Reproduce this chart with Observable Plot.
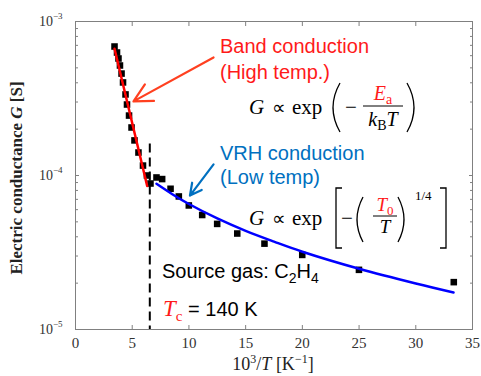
<!DOCTYPE html>
<html><head><meta charset="utf-8">
<script src="https://cdn.jsdelivr.net/npm/d3@7"></script>
<script src="https://cdn.jsdelivr.net/npm/@observablehq/plot@0.6"></script>
<style>body{margin:0;background:#fff} #chart{width:481px;height:376px}</style>
</head><body><div id="chart"></div>
<script>
// measured data: x = 1000/T [1/K], G [S]
const invT = [3.44, 3.66, 3.79, 3.92, 4.06, 4.19, 4.41, 4.54, 4.72, 4.94, 5.20, 5.55, 5.95, 6.30, 6.61, 7.14, 7.64, 8.38, 9.11, 9.99, 11.17, 12.49, 14.26, 16.66, 19.99, 24.99, 33.35];
const conductance = [6.88e-4, 6.29e-4, 5.75e-4, 5.18e-4, 4.59e-4, 4.02e-4, 3.36e-4, 2.89e-4, 2.45e-4, 2.05e-4, 1.69e-4, 1.41e-4, 1.16e-4, 1.0e-4, 8.87e-5, 9.71e-5, 9.48e-5, 8.20e-5, 7.31e-5, 6.39e-5, 5.54e-5, 4.85e-5, 4.20e-5, 3.61e-5, 3.05e-5, 2.44e-5, 2.03e-5];
// band-conduction fit (red)
const bandX = [3.44, 6.32];
const bandG = [6.65e-4, 8.55e-5];
// VRH fit (blue)
const vrhX = [7.14, 8.5, 10, 12.5, 15, 17.5, 20, 25, 30, 33.33];
const vrhG = [8.83e-5, 7.59e-5, 6.53e-5, 5.26e-5, 4.37e-5, 3.72e-5, 3.20e-5, 2.48e-5, 1.99e-5, 1.74e-5];
// transition temperature marker (Tc)
const tcX = [6.55];
const tcTop = [1.6e-4];
// arrows [tail x, tail y, head x, head y]
const redArrow = [12.17, 5.84e-4, 5.11, 3.03e-4];
const blueArrow = [12.17, 1.18e-4, 10.09, 7.41e-5];
// ticks
const xTicks = [0, 5, 10, 15, 20, 25, 30, 35];
const yMajor = [1e-5, 1e-4, 1e-3];
const yTickLabels = ["10^−5", "10^−4", "10^−3"];
const yMinor = [2e-5,3e-5,4e-5,5e-5,6e-5,7e-5,8e-5,9e-5,2e-4,3e-4,4e-4,5e-4,6e-4,7e-4,8e-4,9e-4];

const pts = invT.map((x, i) => ({x, g: conductance[i]}));
const band = bandX.map((x, i) => ({x, g: bandG[i]}));
const vrh = vrhX.map((x, i) => ({x, g: vrhG[i]}));

const gridStroke = "#808080";
const plot = Plot.plot({
  width: 481, height: 376,
  marginLeft: 75, marginRight: 9, marginTop: 21, marginBottom: 47,
  style: {fontFamily: "Liberation Serif", fontSize: "15px", color: "#333", background: "#fff"},
  x: {domain: [0, 35], axis: null},
  y: {type: "log", domain: [1e-5, 1e-3], axis: null},
  marks: [
    Plot.frame({stroke: gridStroke}),
    Plot.axisX(xTicks, {anchor: "bottom", tickSize: 0, tickPadding: 8, label: null}),
    Plot.axisX(xTicks.slice(1, -1), {anchor: "bottom", tickSize: -4, tickFormat: () => "", label: null, stroke: gridStroke}),
    Plot.axisX(xTicks.slice(1, -1), {anchor: "top", tickSize: -4, tickFormat: () => "", label: null, stroke: gridStroke}),
    Plot.axisY(yMajor, {anchor: "left", tickSize: 0, tickPadding: 13, tickFormat: d => yTickLabels[yMajor.indexOf(d)], label: null, fontSize: 14}),
    Plot.axisY(yMajor, {anchor: "left", tickSize: -4, tickFormat: () => "", label: null, stroke: gridStroke}),
    Plot.axisY(yMinor, {anchor: "left", tickSize: -3, tickFormat: () => "", label: null, stroke: gridStroke}),
    Plot.axisY(yMajor, {anchor: "right", tickSize: -4, tickFormat: () => "", label: null, stroke: gridStroke}),
    Plot.axisY(yMinor, {anchor: "right", tickSize: -3, tickFormat: () => "", label: null, stroke: gridStroke}),
    Plot.ruleX(tcX, {x: d => d, y1: (d, i) => tcTop[i], y2: 1e-5, stroke: "#000", strokeWidth: 2, strokeDasharray: "9,5"}),
    Plot.dot(pts, {x: "x", y: "g", symbol: "square", r: 3.7, fill: "#000", stroke: "none"}),
    Plot.line(band, {x: "x", y: "g", stroke: "#ff0000", strokeWidth: 2.5}),
    Plot.line(vrh, {x: "x", y: "g", stroke: "#0000ff", strokeWidth: 2.5, curve: "catmull-rom"}),
    Plot.arrow([redArrow], {x1: d => d[0], y1: d => d[1], x2: d => d[2], y2: d => d[3], stroke: "#ff4020", strokeWidth: 2.2, headLength: 14, headAngle: 55}),
    Plot.arrow([blueArrow], {x1: d => d[0], y1: d => d[1], x2: d => d[2], y2: d => d[3], stroke: "#0070c0", strokeWidth: 2.2, headLength: 14, headAngle: 55})
  ]
});
document.getElementById("chart").appendChild(plot);

// rich tick labels 10^k
const svg = d3.select(plot);
svg.selectAll("text").each(function() {
  const t = this.textContent;
  if (t.startsWith("10^")) {
    const exp = t.slice(3);
    const el = d3.select(this);
    el.text("");
    el.append("tspan").text("10");
    el.append("tspan").attr("dy", "-7").attr("font-size", "9px").text(exp);
  }
});

const ann = svg.append("g").attr("text-anchor", "start");
function rich(x, y, parts, attrs = {}) {
  const t = ann.append("text").attr("x", x).attr("y", y).attr("text-anchor", "start");
  for (const [k, v] of Object.entries(attrs)) t.attr(k, v);
  for (const p of parts) {
    const s = t.append("tspan").text(p.t);
    if (p.i) s.attr("font-style", "italic");
    if (p.fill) s.attr("fill", p.fill);
    if (p.fs) s.attr("font-size", p.fs);
    if (p.dy) s.attr("dy", p.dy);
    if (p.ff) s.attr("font-family", p.ff);
  }
  return t;
}
function path(d, w = 1.3) {
  ann.append("path").attr("d", d).attr("fill", "none").attr("stroke", "#000").attr("stroke-width", w);
}
const serif = "Liberation Serif", sans = "Liberation Sans";
const M = {"font-family": serif, "font-size": 21, fill: "#000"};
const MC = Object.assign({}, M, {"text-anchor": "middle"});

// axis labels
rich(0, 0, [{t: "Electric conductance "}, {t: "G", i: 1}, {t: " [S]"}],
  {transform: "translate(22,178) rotate(-90)", "text-anchor": "middle", "font-family": serif, "font-size": 17, "font-weight": "bold", fill: "#222"});
rich(273, 370, [{t: "10"}, {t: "3", fs: 12, dy: "-7"}, {t: "/", dy: "7"}, {t: "T", i: 1}, {t: " [K"}, {t: "−1", fs: 12, dy: "-7"}, {t: "]", dy: "7"}],
  {"text-anchor": "middle", "font-family": serif, "font-size": 18, fill: "#222"});

// annotations
const red = "#ff1a1a", blue = "#0070c0";
rich(220, 53, [{t: "Band conduction"}], {"font-family": sans, "font-size": 20, fill: red});
rich(220, 79, [{t: "(High temp.)"}], {"font-family": sans, "font-size": 20, fill: red});
rich(220, 160, [{t: "VRH conduction"}], {"font-family": sans, "font-size": 20, fill: blue});
rich(220, 184, [{t: "(Low temp)"}], {"font-family": sans, "font-size": 20, fill: blue});
rich(162, 278, [{t: "Source gas: C"}, {t: "2", fs: 14, dy: "5"}, {t: "H", dy: "-5"}, {t: "4", fs: 14, dy: "5"}], {"font-family": sans, "font-size": 20, fill: "#000"});
rich(163, 316, [{t: "T", i: 1, ff: serif, fill: red, fs: 23}, {t: "c", ff: serif, fill: red, fs: 15, dy: "5"}, {t: " = 140 K", dy: "-5"}], {"font-family": sans, "font-size": 20, fill: "#000"});

// formula 1: G ∝ exp(-Ea/(kB T))
rich(249, 114, [{t: "G", i: 1}], M);
rich(278.5, 114, [{t: "∝"}], Object.assign({}, MC, {"font-size": 19}));
rich(292, 114, [{t: "exp"}], M);
path("M340,83 Q326,107.5 340,132");
rich(351, 114, [{t: "−"}], MC);
rich(383, 100, [{t: "E", i: 1}, {t: "a", fs: 14, dy: "4"}], Object.assign({}, MC, {"font-size": 20, fill: red}));
path("M363,106 L403,106", 1);
rich(383, 126, [{t: "k", i: 1}, {t: "B", fs: 14, dy: "4"}, {t: "T", i: 1, dy: "-4"}], Object.assign({}, MC, {"font-size": 20}));
path("M407,83 Q421,107.5 407,132");

// formula 2: G ∝ exp[-(T0/T)^(1/4)]
rich(249, 225, [{t: "G", i: 1}], M);
rich(278.5, 225, [{t: "∝"}], Object.assign({}, MC, {"font-size": 19}));
rich(292, 225, [{t: "exp"}], M);
path("M342,188 L336,188 L336,248 L342,248");
rich(347, 225, [{t: "−"}], MC);
path("M363,197 Q351,219.5 363,242");
rich(385, 211, [{t: "T", i: 1}, {t: "0", fs: 13, dy: "4"}], Object.assign({}, MC, {"font-size": 19, fill: red}));
path("M373,216 L397,216", 1);
rich(385, 233, [{t: "T", i: 1}], Object.assign({}, MC, {"font-size": 19}));
path("M398,197 Q410,219.5 398,242");
rich(415, 200, [{t: "1/4"}], {"font-family": serif, "font-size": 13, fill: "#000"});
path("M440,188 L446,188 L446,248 L440,248");
</script>
</body></html>
